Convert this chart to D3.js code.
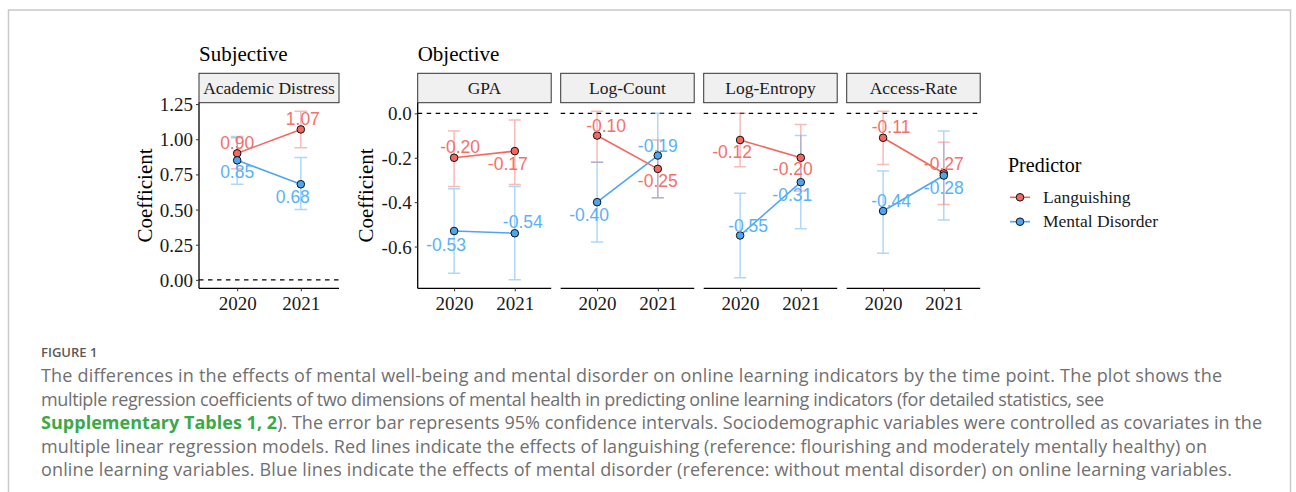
<!DOCTYPE html>
<html>
<head>
<meta charset="utf-8">
<script src="https://cdn.jsdelivr.net/npm/d3@7"></script>
<style>
  html, body { margin: 0; padding: 0; background: #fff; }
  svg { display: block; }
</style>
</head>
<body>
<svg id="chart" width="1296" height="492"></svg>
<script>
// ---------------- data ----------------
const years = ["2020", "2021"];
const outcomes = ["Academic Distress", "GPA", "Log-Count", "Log-Entropy", "Access-Rate"];
const outcomeGroup = ["Subjective", "Objective", "Objective", "Objective", "Objective"];
const predictors = ["Languishing", "Mental Disorder"];

// estimates [outcome][year]
const languishingEst  = [[0.90, 1.07], [-0.20, -0.17], [-0.10, -0.25], [-0.12, -0.20], [-0.11, -0.27]];
const languishingLow  = [[0.79, 0.94], [-0.33, -0.32], [-0.22, -0.38], [-0.24, -0.35], [-0.23, -0.41]];
const languishingHigh = [[1.01, 1.20], [-0.08, -0.03], [0.01, -0.12], [0.00, -0.05], [0.01, -0.13]];

const disorderEst  = [[0.85, 0.68], [-0.53, -0.54], [-0.40, -0.19], [-0.55, -0.31], [-0.44, -0.28]];
const disorderLow  = [[0.68, 0.50], [-0.72, -0.75], [-0.58, -0.38], [-0.74, -0.52], [-0.63, -0.48]];
const disorderHigh = [[1.02, 0.87], [-0.34, -0.33], [-0.22, 0.00], [-0.36, -0.10], [-0.26, -0.08]];

const subjectiveTicks = [0, 0.25, 0.5, 0.75, 1.0, 1.25];
const objectiveTicks = [0, -0.2, -0.4, -0.6];

const captionTitle = "FIGURE 1";
const captionLines = [
  [{t: "The differences in the effects of mental well-being and mental disorder on online learning indicators by the time point. The plot shows the"}],
  [{t: "multiple regression coefficients of two dimensions of mental health in predicting online learning indicators (for detailed statistics, see"}],
  [{t: "Supplementary Tables 1, 2", link: true}, {t: "). The error bar represents 95% confidence intervals. Sociodemographic variables were controlled as covariates in the"}],
  [{t: "multiple linear regression models. Red lines indicate the effects of languishing (reference: flourishing and moderately mentally healthy) on"}],
  [{t: "online learning variables. Blue lines indicate the effects of mental disorder (reference: without mental disorder) on online learning variables."}]
];

// ---------------- layout / style (not data) ----------------
const W = 1296, H = 492;
const colors = {"Languishing": "#F4675F", "Mental Disorder": "#4EA6F2"};
const labelColors = {"Languishing": "#F6706A", "Mental Disorder": "#5AB2F8"};
const serif = "'Liberation Serif', 'Times New Roman', serif";
const sans = "'Liberation Sans', Arial, sans-serif";

const panelLeft = [199, 417.7, 560.7, 703.7, 846.7];
const panelWidth = [140, 133.5, 133.5, 133.5, 133.5];
const plotTop = 102.7, plotBottom = 288.3;
const stripTop = 73.3;
const captionWidths = [1181, 1063, 1221, 1166, 1191];

// label nudges in px [outcome][predictor][year] -> [dx, dy]
const labelNudge = [
  [[[0, -10], [2, -11]], [[0, 12], [-8, 13]]],
  [[[6, -11], [-7, 13]], [[-8, 14], [8, -11]]],
  [[[9, -10], [0, 12]], [[-8, 13], [0, -10]]],
  [[[-8, 12], [-8, 11]], [[8, -10], [-8.5, 13]]],
  [[[8, -11], [0, -9]], [[8, -10], [0, 12]]]
];

const svg = d3.select("#chart");

// frame
svg.append("rect")
  .attr("x", 8.5).attr("y", 10).attr("width", 1282).attr("height", 500)
  .attr("fill", "none").attr("stroke", "#c9c9c9").attr("stroke-width", 1.5);

// build series
const estAll = [languishingEst, disorderEst];
const lowAll = [languishingLow, disorderLow];
const highAll = [languishingHigh, disorderHigh];

function yDomainFor(idxs) {
  const vals = [0];
  idxs.forEach(o => {
    [0, 1].forEach(p => {
      lowAll[p][o].forEach(v => vals.push(v));
      highAll[p][o].forEach(v => vals.push(v));
    });
  });
  const [mn, mx] = d3.extent(vals);
  const pad = (mx - mn) * 0.05;
  return [mn - pad, mx + pad];
}

const yScaleSubj = d3.scaleLinear().domain(yDomainFor([0])).range([plotBottom, plotTop]);
const yScaleObj = d3.scaleLinear().domain(yDomainFor([1, 2, 3, 4])).range([plotBottom, plotTop]);

outcomes.forEach((name, o) => {
  const x0 = panelLeft[o], pw = panelWidth[o];
  const y = o === 0 ? yScaleSubj : yScaleObj;
  const x = d3.scalePoint().domain(years).range([x0, x0 + pw]).padding(0.6);
  const band = x.step();
  const g = svg.append("g");

  // strip
  g.append("rect").attr("x", x0).attr("y", stripTop).attr("width", pw).attr("height", plotTop - stripTop)
    .attr("fill", "#f0f0f0").attr("stroke", "#333").attr("stroke-width", 1);
  g.append("text").attr("x", x0 + pw / 2).attr("y", stripTop + (plotTop - stripTop) / 2 + 6)
    .attr("text-anchor", "middle").attr("font-family", serif).attr("font-size", 17.5)
    .attr("fill", "#1a1a1a").text(name);

  // dashed zero line
  g.append("line").attr("x1", x0).attr("x2", x0 + pw).attr("y1", y(0)).attr("y2", y(0))
    .attr("stroke", "#000").attr("stroke-width", 1.3).attr("stroke-dasharray", "4.5,4.5");

  // x axis
  const xAxis = g.append("g").attr("transform", `translate(0,${plotBottom})`)
    .call(d3.axisBottom(x).tickSize(3).tickSizeOuter(0).tickPadding(5));
  xAxis.select(".domain").attr("stroke", "#000").attr("stroke-width", 1.3)
    .attr("d", `M${x0},0H${x0 + pw}`);
  xAxis.selectAll(".tick line").attr("stroke", "#333").attr("stroke-width", 1);
  xAxis.selectAll("text").attr("font-family", serif).attr("font-size", 19).attr("fill", "#1a1a1a")
    .attr("dy", "0.71em");

  // y axis for first panel of each group
  if (o === 0 || o === 1) {
    const ticks = o === 0 ? subjectiveTicks : objectiveTicks;
    const fmt = o === 0 ? d3.format(".2f") : (v => d3.format(".1f")(v).replace("−", "-"));
    const yAxis = g.append("g").attr("transform", `translate(${x0},0)`)
      .call(d3.axisLeft(y).tickValues(ticks).tickFormat(fmt).tickSize(3).tickSizeOuter(0).tickPadding(3));
    yAxis.select(".domain").attr("stroke", "#000").attr("stroke-width", 1.3)
      .attr("d", `M0,${plotTop}V${plotBottom}`);
    yAxis.selectAll(".tick line").attr("stroke", "#333").attr("stroke-width", 1);
    yAxis.selectAll("text").attr("font-family", serif).attr("font-size", 19).attr("fill", "#1a1a1a")
      .attr("dy", "0.34em");
    // axis title
    const tx = o === 0 ? 151.5 : 372.5;
    g.append("text").attr("transform", `translate(${tx},${(plotTop + plotBottom) / 2}) rotate(-90)`)
      .attr("text-anchor", "middle").attr("font-family", serif).attr("font-size", 21)
      .attr("fill", "#000").text("Coefficient");
    // group title
    g.append("text").attr("x", x0).attr("y", 61).attr("font-family", serif).attr("font-size", 21)
      .attr("fill", "#000").text(outcomeGroup[o]);
  }

  // series
  predictors.forEach((p, pi) => {
    const pts = years.map((yr, yi) => ({
      yr, est: estAll[pi][o][yi], lo: lowAll[pi][o][yi], hi: highAll[pi][o][yi], yi
    }));
    const col = colors[p];
    const capW = band * 0.1;
    // error bars
    const eb = g.append("g").attr("stroke", col).attr("stroke-opacity", 0.45).attr("stroke-width", 1.5).attr("fill", "none");
    pts.forEach(d => {
      const cx = x(d.yr);
      eb.append("path").attr("d",
        `M${cx - capW},${y(d.hi)}H${cx + capW}M${cx},${y(d.hi)}V${y(d.lo)}M${cx - capW},${y(d.lo)}H${cx + capW}`);
    });
    // line
    g.append("path").datum(pts)
      .attr("d", d3.line().x(d => x(d.yr)).y(d => y(d.est)))
      .attr("fill", "none").attr("stroke", col).attr("stroke-width", 1.6);
  });
  predictors.forEach((p, pi) => {
    const col = colors[p];
    years.forEach((yr, yi) => {
      const v = estAll[pi][o][yi];
      g.append("circle").attr("cx", x(yr)).attr("cy", y(v)).attr("r", 3.8)
        .attr("fill", col).attr("stroke", "#111").attr("stroke-width", 1);
    });
  });
  // value labels
  predictors.forEach((p, pi) => {
    years.forEach((yr, yi) => {
      const v = estAll[pi][o][yi];
      const [dx, dy] = labelNudge[o][pi][yi];
      g.append("text").attr("x", x(yr) + dx).attr("y", y(v) + dy)
        .attr("dy", "0.35em").attr("text-anchor", "middle")
        .attr("font-family", sans).attr("font-size", 17.5).attr("fill", labelColors[p])
        .text(d3.format(".2f")(v).replace("−", "-"));
    });
  });
});

// legend
const lg = svg.append("g");
lg.append("text").attr("x", 1008).attr("y", 172).attr("font-family", serif).attr("font-size", 20)
  .attr("fill", "#000").text("Predictor");
predictors.forEach((p, i) => {
  const ly = 197.3 + i * 24.4;
  lg.append("line").attr("x1", 1010).attr("x2", 1030).attr("y1", ly).attr("y2", ly)
    .attr("stroke", colors[p]).attr("stroke-width", 1.6);
  lg.append("circle").attr("cx", 1020).attr("cy", ly).attr("r", 3.8)
    .attr("fill", colors[p]).attr("stroke", "#111").attr("stroke-width", 1);
  lg.append("text").attr("x", 1043).attr("y", ly).attr("dy", "0.33em")
    .attr("font-family", serif).attr("font-size", 17.5).attr("fill", "#1a1a1a").text(p);
});

// caption
svg.append("text").attr("x", 41).attr("y", 357).attr("font-family", "'Open Sans', sans-serif")
  .attr("font-size", 13).attr("font-weight", 600).attr("fill", "#5a5a5a").text(captionTitle);
captionLines.forEach((line, i) => {
  const t = svg.append("text").attr("x", 41).attr("y", 382 + i * 23.6)
    .attr("font-family", "'Open Sans', sans-serif").attr("font-size", 18).attr("fill", "#707070")
    .attr("textLength", captionWidths[i]).attr("lengthAdjust", "spacing");
  line.forEach(seg => {
    const ts = t.append("tspan").text(seg.t);
    if (seg.link) ts.attr("fill", "#3aaa48").attr("font-weight", 700);
  });
});
</script>
</body>
</html>
